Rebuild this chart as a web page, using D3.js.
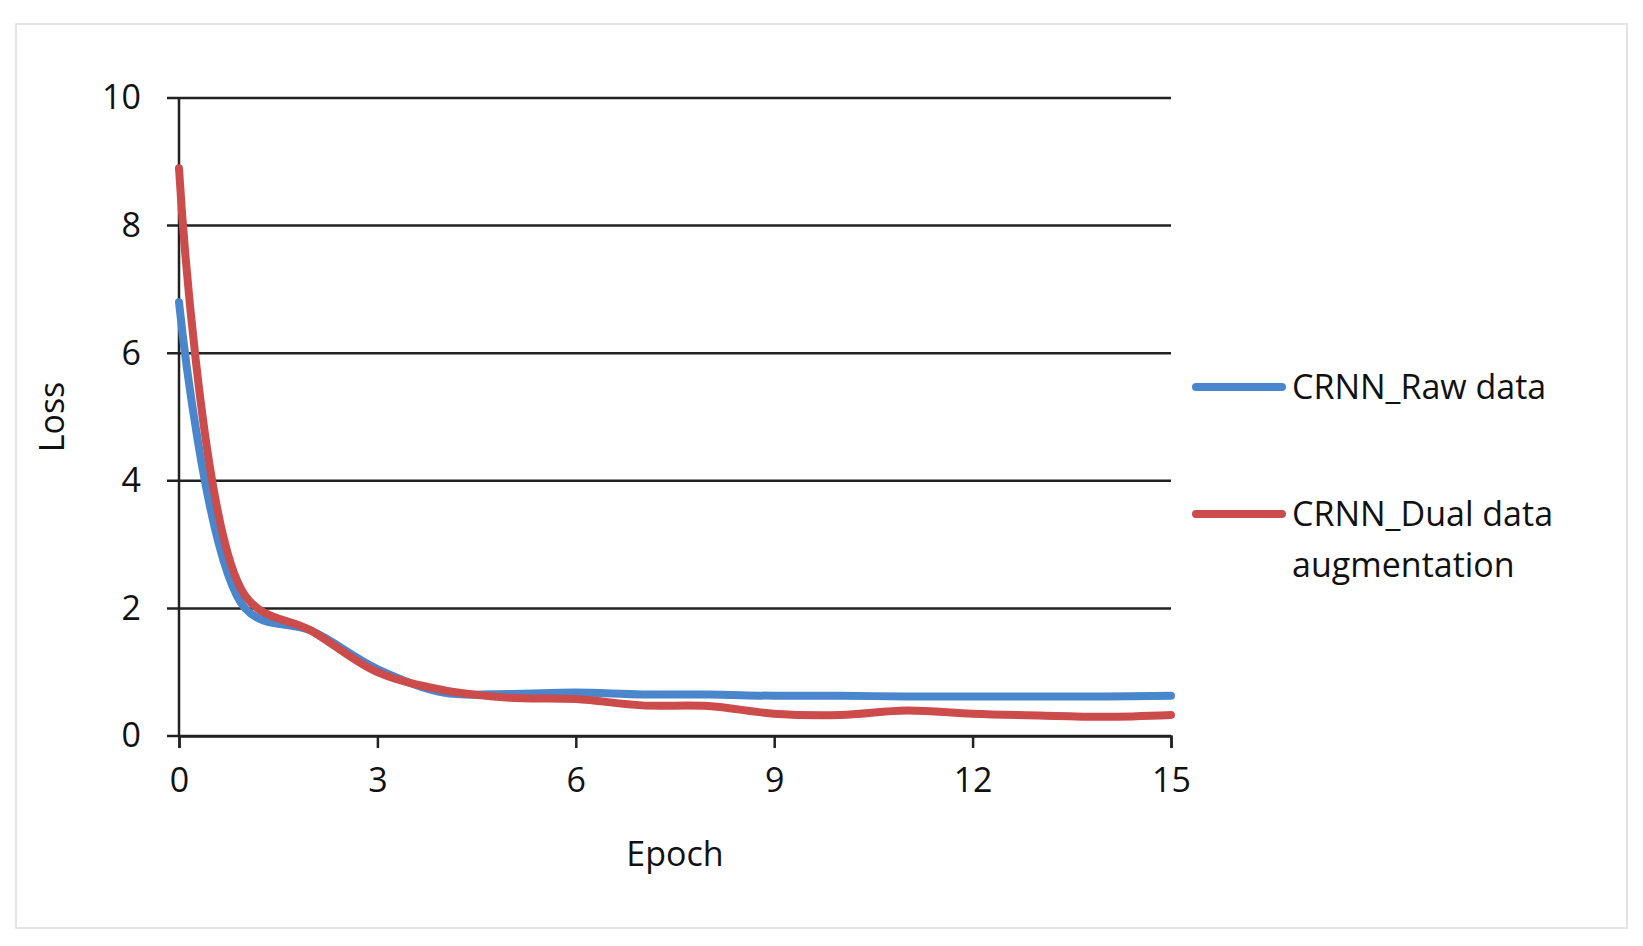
<!DOCTYPE html>
<html><head><meta charset="utf-8">
<script src="https://cdn.jsdelivr.net/npm/d3@7"></script>
<style>body{margin:0;background:#fff}text{font-family:"Open Sans",sans-serif;fill:#111}</style>
</head><body><div class="canvas"></div>
<script>
// ---- DATA --- //
const epochs = [0,1,2,3,4,5,6,7,8,9,10,11,12,13,14,15];
const rawLoss = [6.8,2.0,1.65,1.05,0.68,0.66,0.68,0.65,0.65,0.63,0.63,0.62,0.62,0.62,0.62,0.63];
const dualLoss = [8.9,2.2,1.65,1.0,0.72,0.6,0.58,0.48,0.47,0.35,0.33,0.4,0.35,0.32,0.3,0.33];
const xTicks = [0,3,6,9,12,15];
const yTicks = [0,2,4,6,8,10];
const seriesNames = ['CRNN_Raw data', 'CRNN_Dual data augmentation'];
const colors = ['#4a86cc', '#cc4b4b'];

// ---- SETUP --- //
const W = 1643, H = 946;
const margin = { top: 98, right: 472, bottom: 210, left: 179 };
const gw = W - margin.left - margin.right, gh = H - margin.top - margin.bottom;

const svg = d3.select('.canvas').append('svg').attr('width', W).attr('height', H);
svg.append('rect').attr('x', 16).attr('y', 24).attr('width', 1611).attr('height', 904)
    .attr('fill', 'none').attr('stroke', '#e4e4e4').attr('stroke-width', 2);

const graph = svg.append('g').attr('transform', `translate(${margin.left},${margin.top})`);

const x = d3.scaleLinear().domain([0, 15]).range([0, gw]);
const y = d3.scaleLinear().domain([0, 10]).range([gh, 0]);

// gridlines
graph.selectAll('.grid').data(yTicks).join('line')
    .attr('x1', -12).attr('x2', gw).attr('y1', d => y(d)).attr('y2', d => y(d))
    .attr('stroke', '#222').attr('stroke-width', 2.5);

const xAxis = graph.append('g').attr('transform', `translate(0,${gh})`)
    .call(d3.axisBottom(x).tickValues(xTicks).tickSize(12).tickPadding(20));
const yAxis = graph.append('g')
    .call(d3.axisLeft(y).tickValues(yTicks).tickSize(0).tickPadding(38));
[xAxis, yAxis].forEach(a => {
    a.select('.domain').attr('stroke', '#222').attr('stroke-width', 2.5);
    a.selectAll('line').attr('stroke', '#222').attr('stroke-width', 2.5);
    a.selectAll('text').style('font-size', '34px').attr('fill', '#111');
});
yAxis.select('.domain').attr('d', `M0,${gh}V0`);

// lines
const line = d3.line().x((d, i) => x(epochs[i])).y(d => y(d)).curve(d3.curveCatmullRom);
[rawLoss, dualLoss].forEach((s, i) => {
    graph.append('path').datum(s).attr('d', line).attr('fill', 'none')
        .attr('stroke', colors[i]).attr('stroke-width', 8).attr('stroke-linecap', 'round');
});

// axis titles
svg.append('text').attr('x', margin.left + gw / 2).attr('y', 866).attr('text-anchor', 'middle')
    .style('font-size', '34px').text('Epoch');
svg.append('text').attr('transform', `translate(64,${margin.top + gh / 2}) rotate(-90)`)
    .attr('text-anchor', 'middle').style('font-size', '34px').text('Loss');

// legend
const legY = [387, 514];
seriesNames.forEach((n, i) => {
    svg.append('line').attr('x1', 1196).attr('x2', 1282).attr('y1', legY[i]).attr('y2', legY[i])
        .attr('stroke', colors[i]).attr('stroke-width', 8).attr('stroke-linecap', 'round');
});
svg.append('text').attr('x', 1292).attr('y', legY[0] + 12).style('font-size', '34px').text(seriesNames[0]);
const t2 = svg.append('text').attr('x', 1292).attr('y', legY[1] + 12).style('font-size', '34px');
t2.append('tspan').text('CRNN_Dual data');
t2.append('tspan').attr('x', 1292).attr('dy', 51).text('augmentation');
</script></body></html>
